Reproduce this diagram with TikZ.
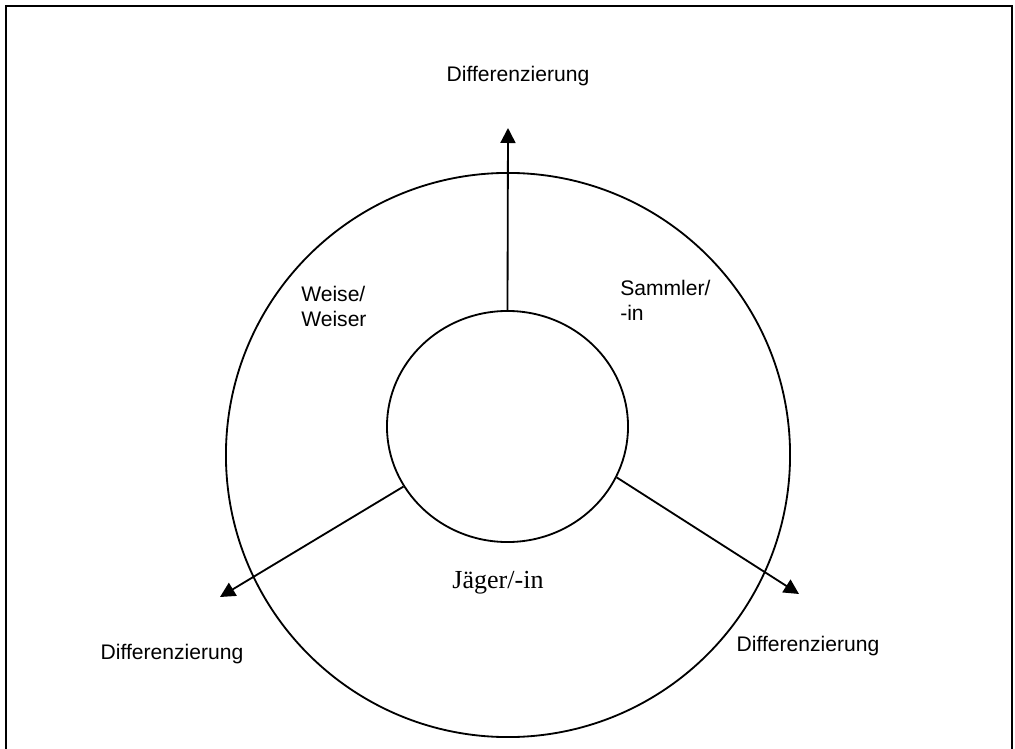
\documentclass[tikz,border=0pt]{standalone}
\usepackage{fontspec}
\setmainfont{Liberation Sans}
\newfontfamily\serifJ{Liberation Serif}
\usetikzlibrary{arrows.meta, shapes.geometric}
\tikzset{
	arrow/.style={line width=1.3pt, -{Triangle[length=0.375cm, width=0.375cm]}},
	ring/.style={draw, line width=1.3pt, ellipse, inner sep=0pt},
	lbl/.style={font=\fontsize{15}{17.8}\selectfont, align=left, inner sep=0pt},
}

\begin{document}
\begin{tikzpicture}[x=0.025cm, y=-0.025cm]
	\useasboundingbox (0,0) rectangle (1015,749);
	\clip (0,0) rectangle (1015,749);
	\draw[line width=1.3pt] (6,6) rectangle (1012,770);

	\node[ring, minimum width=14.1cm, minimum height=14.1cm] (outer) at (508,455) {};
	\node[ring, minimum width=6.025cm, minimum height=5.775cm] (inner) at (507.5,426.5) {};

	\coordinate (topTip) at (508,128);
	\coordinate (leftTip) at (220,597);
	\coordinate (rightTip) at (799,594);

	\draw[arrow] (inner.north) -- (topTip);
	\draw[arrow] (inner.210) -- (leftTip);
	\draw[arrow] (inner.335) -- (rightTip);

	\node[lbl, anchor=base] (topLbl) at (518,82) {Differenzierung};
	\node[lbl, anchor=base] (leftLbl) at (172,659) {Differenzierung};
	\node[lbl, anchor=base] (rightLbl) at (808,651) {Differenzierung};

	\node[lbl, anchor=north west] (weise) at (301,286) {Weise/\\Weiser};
	\node[lbl, anchor=north west] (sammler) at (620,280) {Sammler/\\-in};
	\node[inner sep=0pt, anchor=base, font=\serifJ\fontsize{18.5}{22}\selectfont] (jaeger) at (498,588) {Jäger/-in};
\end{tikzpicture}
\end{document}
